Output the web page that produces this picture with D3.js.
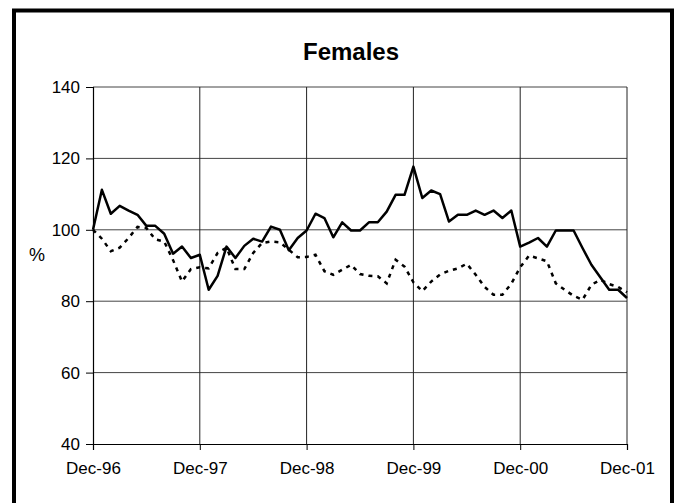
<!DOCTYPE html>
<html>
<head>
<meta charset="utf-8">
<script src="https://cdn.jsdelivr.net/npm/d3@7"></script>
<style>
  body { margin: 0; background: #fff; }
  svg text { font-family: "Liberation Sans", Arial, sans-serif; }
</style>
</head>
<body>
<div id="chart"></div>
<script>
// monthly index, Dec-96 = 0 ... Dec-01 = 60
const yearLabels = ["Dec-96", "Dec-97", "Dec-98", "Dec-99", "Dec-00", "Dec-01"];
const yTicks = [40, 60, 80, 100, 120, 140];

// solid line
const solidSeries = [
    100, 111.2, 104.5, 106.7, 105.4, 104.2, 101.1, 101.1, 98.9, 93.3,
    95.3, 92.1, 93, 83.2, 87.1, 95.3, 92.1, 95.5, 97.5, 96.7,
    100.9, 100, 94.3, 97.7, 99.8, 104.5, 103.3, 97.9, 102.1, 99.8,
    99.8, 102.1, 102.1, 105.1, 109.8, 109.8, 117.7, 108.9, 111, 110,
    102.3, 104.2, 104.2, 105.4, 104.2, 105.4, 103.3, 105.4, 95.3, 96.4,
    97.7, 95.3, 99.8, 99.8, 99.8, 94.9, 90.2, 86.7, 83.2, 83.2,
    80.9
];

// dashed line
const dashedSeries = [
    100, 97.5, 94, 95, 97.7, 100.8, 100.5, 97.3, 96.7, 91.5,
    85.5, 89, 89.5, 89.2, 93.5, 95, 89, 89, 93.5, 96.3,
    96.7, 96.5, 94.4, 92.3, 92.4, 93, 88.4, 87.4, 88.8, 90.2,
    87.6, 87.1, 87, 85, 91.6, 89.7, 85.3, 82.8, 85.5, 87.5,
    88.5, 89.2, 90.5, 87.4, 84, 81.8, 81.8, 84.9, 89.5, 92.8,
    92, 91.2, 85, 83.2, 81.5, 80.4, 84.6, 86, 84.8, 84,
    82.5
];

const width = 680, height = 503;
const margin = {top: 87, right: 53, bottom: 59, left: 93};

const svg = d3.select("#chart").append("svg")
    .attr("width", width)
    .attr("height", height);

// outer frame (bottom edge runs off the picture)
svg.append("rect")
    .attr("x", 14).attr("y", 10.5)
    .attr("width", 658).attr("height", 520)
    .attr("fill", "none")
    .attr("stroke", "#000")
    .attr("stroke-width", 4);

const x = d3.scaleLinear()
    .domain([0, 60])
    .range([margin.left, width - margin.right]);

const y = d3.scaleLinear()
    .domain([40, 140])
    .range([height - margin.bottom, margin.top]);

// horizontal gridlines
svg.append("g")
    .selectAll("line")
    .data(yTicks.filter(d => d > 40))
    .join("line")
    .attr("x1", x(0)).attr("x2", x(60))
    .attr("y1", d => y(d)).attr("y2", d => y(d))
    .attr("stroke", "#444")
    .attr("stroke-width", 1);

// vertical gridlines at each December
svg.append("g")
    .selectAll("line")
    .data(d3.range(1, 6))
    .join("line")
    .attr("x1", d => x(d * 12)).attr("x2", d => x(d * 12))
    .attr("y1", y(40)).attr("y2", y(140))
    .attr("stroke", "#222")
    .attr("stroke-width", 1);

// y axis
const yAxis = svg.append("g")
    .attr("transform", `translate(${x(0)},0)`)
    .call(d3.axisLeft(y).tickValues(yTicks).tickSize(7).tickPadding(6));

// x axis
const xAxis = svg.append("g")
    .attr("transform", `translate(0,${y(40)})`)
    .call(d3.axisBottom(x)
        .tickValues(d3.range(0, 61, 12))
        .tickFormat((d, i) => yearLabels[i])
        .tickSize(6).tickPadding(12));

[yAxis, xAxis].forEach(g => {
    g.select(".domain").attr("stroke", "#000").attr("stroke-width", 1.2);
    g.selectAll(".tick line").attr("stroke", "#000");
    g.selectAll("text")
        .attr("fill", "#000")
        .style("font-size", "17px");
});

svg.append("text")
    .attr("x", 37).attr("y", y(92.5))
    .attr("text-anchor", "middle")
    .attr("dominant-baseline", "middle")
    .style("font-size", "18px")
    .text("%");

svg.append("text")
    .attr("x", 351).attr("y", 60)
    .attr("text-anchor", "middle")
    .style("font-size", "24px")
    .style("font-weight", "bold")
    .text("Females");

const line = d3.line()
    .x((d, i) => x(i))
    .y(d => y(d));

svg.append("path")
    .datum(dashedSeries)
    .attr("d", line)
    .attr("fill", "none")
    .attr("stroke", "#000")
    .attr("stroke-width", 2.5)
    .attr("stroke-dasharray", "4,5");

svg.append("path")
    .datum(solidSeries)
    .attr("d", line)
    .attr("fill", "none")
    .attr("stroke", "#000")
    .attr("stroke-width", 2.5)
    .attr("stroke-linejoin", "round");
</script>
</body>
</html>
